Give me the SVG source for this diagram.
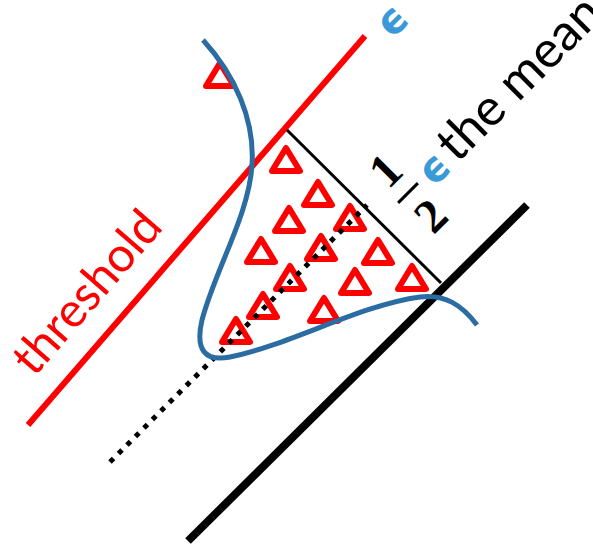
<svg xmlns="http://www.w3.org/2000/svg" xmlns:xlink="http://www.w3.org/1999/xlink" width="593" height="544" viewBox="0 0 593 544">
<style>
.tri{fill:none;stroke:#ff0000;stroke-width:6;stroke-linejoin:round}
.lbl{font-family:Lato,"Liberation Sans",sans-serif;font-size:48px}
.eps{font-family:"DejaVu Sans",sans-serif;font-weight:bold;font-size:42px;fill:#3a9ad9}
.num{font-family:"Liberation Serif",serif;font-weight:bold;font-size:48px;fill:#000}
</style>
<defs>
<path id="tri" d="M0,-12 L14,11 L-14,11 Z"/>
</defs>
<rect width="593" height="544" fill="#fff"/>
<g id="connectors">
<line id="threshold-line" x1="28" y1="425" x2="365" y2="36" stroke="#ff0000" stroke-width="6"/>
<line id="boundary-line" x1="188" y1="541" x2="527" y2="205" stroke="#000" stroke-width="8"/>
<line id="perp-line" x1="287" y1="130" x2="441" y2="283" stroke="#000" stroke-width="3"/>
</g>
<g id="triangles">
<use id="t1" xlink:href="#tri" class="tri" x="220" y="75"/>
<use id="t2" xlink:href="#tri" class="tri" x="286" y="160"/>
<use id="t3" xlink:href="#tri" class="tri" x="318" y="194"/>
<use id="t4" xlink:href="#tri" class="tri" x="289" y="220"/>
<use id="t5" xlink:href="#tri" class="tri" x="350" y="218"/>
<use id="t6" xlink:href="#tri" class="tri" x="261" y="251"/>
<use id="t7" xlink:href="#tri" class="tri" x="321" y="248"/>
<use id="t8" xlink:href="#tri" class="tri" x="378" y="252"/>
<use id="t9" xlink:href="#tri" class="tri" x="290" y="278"/>
<use id="t10" xlink:href="#tri" class="tri" x="355" y="282"/>
<use id="t11" xlink:href="#tri" class="tri" x="412" y="278"/>
<use id="t12" xlink:href="#tri" class="tri" x="263" y="306"/>
<use id="t13" xlink:href="#tri" class="tri" x="324" y="310"/>
<use id="t14" xlink:href="#tri" class="tri" x="236" y="331"/>
</g>
<g id="mean-line">
<line x1="110" y1="462" x2="367" y2="205" stroke="#000" stroke-width="5" stroke-dasharray="5 7"/>
</g>
<g id="distribution">
<path d="M203,40 C235,75 255,120 252,165 C249,215 215,270 202,320 C195,350 205,362 230,357 C290,345 360,305 420,297 C445,294 462,305 477,325" fill="none" stroke="#2b6ca3" stroke-width="5"/>
</g>
<g id="threshold-label">
<text class="lbl" fill="#ff0000" transform="translate(34,378) rotate(-49)">threshold</text>
</g>
<g id="epsilon-top">
<text class="eps" text-anchor="middle" transform="translate(393,22) rotate(-45)" dy="12">ϵ</text>
</g>
<g id="mean-label">
<g transform="translate(408,193) rotate(-45)">
<line x1="-14" y1="0" x2="14" y2="0" stroke="#000" stroke-width="3"/>
<text class="num" text-anchor="middle" y="-16">1</text>
<text class="num" text-anchor="middle" y="48">2</text>
</g>
<text class="eps" text-anchor="middle" transform="translate(435,170) rotate(-45)" dy="12">ϵ</text>
<text class="lbl" fill="#000" style="font-size:51px" transform="translate(457,164) rotate(-45)">the mean</text>
</g>
</svg>
